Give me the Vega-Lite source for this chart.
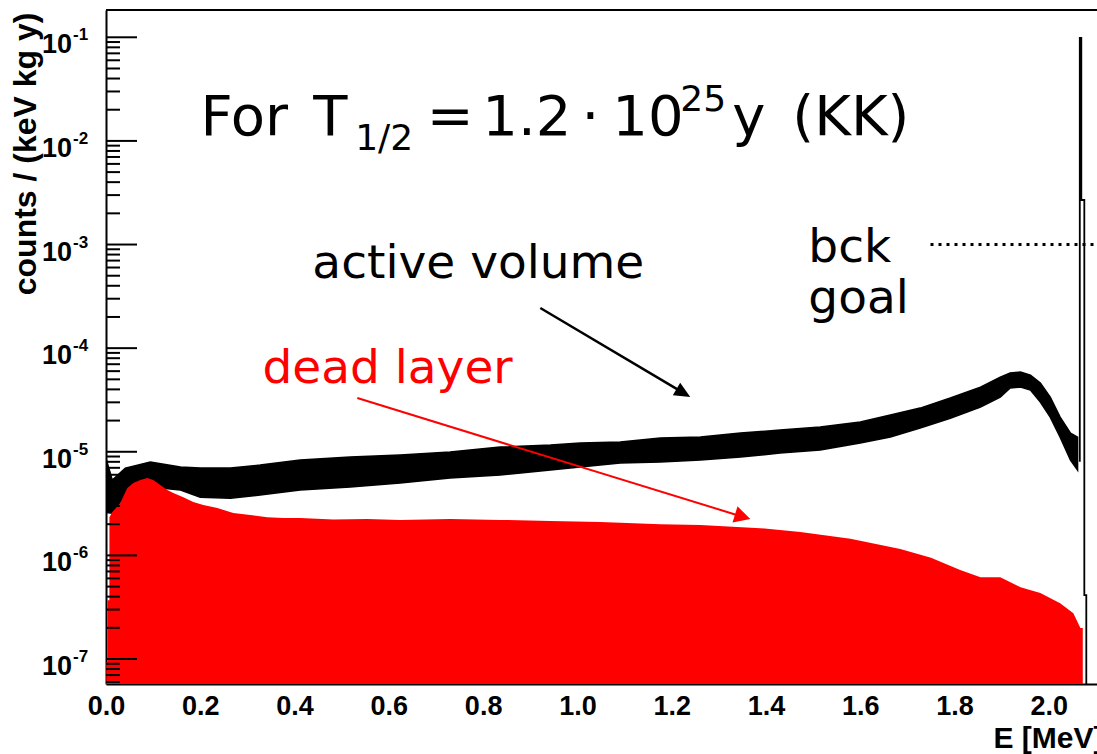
{
  "$schema": "https://vega.github.io/schema/vega-lite/v6.json",
  "width": 991,
  "height": 674,
  "autosize": "none",
  "padding": {"left": 106, "top": 10, "right": 0, "bottom": 70},
  "background": "white",
  "config": {"view": {"stroke": null}},
  "datasets": {
    "one": [{}],
    "black": [
      {"E": 0.0005, "hi": 8.5e-6, "lo": 2.6e-6},
      {"E": 0.0134, "hi": 5.33e-6, "lo": 2.56e-6},
      {"E": 0.041, "hi": 6.96e-6, "lo": 3.82e-6},
      {"E": 0.094, "hi": 7.95e-6, "lo": 4.56e-6},
      {"E": 0.158, "hi": 7.12e-6, "lo": 4.27e-6},
      {"E": 0.2, "hi": 6.96e-6, "lo": 3.65e-6},
      {"E": 0.264, "hi": 6.96e-6, "lo": 3.57e-6},
      {"E": 0.327, "hi": 7.44e-6, "lo": 3.82e-6},
      {"E": 0.412, "hi": 8.31e-6, "lo": 4.27e-6},
      {"E": 0.518, "hi": 8.89e-6, "lo": 4.56e-6},
      {"E": 0.624, "hi": 9.29e-6, "lo": 4.99e-6},
      {"E": 0.73, "hi": 9.93e-6, "lo": 5.57e-6},
      {"E": 0.836, "hi": 1.11e-5, "lo": 5.96e-6},
      {"E": 0.943, "hi": 1.16e-5, "lo": 6.66e-6},
      {"E": 1.006, "hi": 1.213e-5, "lo": 7.12e-6},
      {"E": 1.091, "hi": 1.241e-5, "lo": 7.78e-6},
      {"E": 1.176, "hi": 1.356e-5, "lo": 7.95e-6},
      {"E": 1.261, "hi": 1.386e-5, "lo": 8.31e-6},
      {"E": 1.346, "hi": 1.515e-5, "lo": 8.89e-6},
      {"E": 1.43, "hi": 1.62e-5, "lo": 9.71e-6},
      {"E": 1.515, "hi": 1.731e-5, "lo": 1.038e-5},
      {"E": 1.6, "hi": 1.934e-5, "lo": 1.213e-5},
      {"E": 1.664, "hi": 2.26e-5, "lo": 1.386e-5},
      {"E": 1.727, "hi": 2.64e-5, "lo": 1.693e-5},
      {"E": 1.791, "hi": 3.3e-5, "lo": 2.11e-5},
      {"E": 1.855, "hi": 4.21e-5, "lo": 2.7e-5},
      {"E": 1.897, "hi": 5.26e-5, "lo": 3.37e-5},
      {"E": 1.918, "hi": 5.75e-5, "lo": 4.12e-5},
      {"E": 1.94, "hi": 5.88e-5, "lo": 4.21e-5},
      {"E": 1.961, "hi": 5.5e-5, "lo": 3.94e-5},
      {"E": 1.982, "hi": 4.6e-5, "lo": 3.02e-5},
      {"E": 2.003, "hi": 3.37e-5, "lo": 2.16e-5},
      {"E": 2.024, "hi": 2.16e-5, "lo": 1.386e-5},
      {"E": 2.046, "hi": 1.515e-5, "lo": 8.31e-6},
      {"E": 2.061, "hi": 1.386e-5, "lo": 6.66e-6}
    ],
    "red": [
      {"E": 0.0005, "v": 9.3e-8},
      {"E": 0.003, "v": 9.3e-8},
      {"E": 0.0031, "v": 3.7e-7},
      {"E": 0.0072, "v": 3.7e-7},
      {"E": 0.0073, "v": 2.34e-6},
      {"E": 0.0134, "v": 2.62e-6},
      {"E": 0.0303, "v": 3.2e-6},
      {"E": 0.0452, "v": 4.46e-6},
      {"E": 0.0579, "v": 4.99e-6},
      {"E": 0.0728, "v": 5.33e-6},
      {"E": 0.0876, "v": 5.57e-6},
      {"E": 0.1003, "v": 5.33e-6},
      {"E": 0.1152, "v": 4.77e-6},
      {"E": 0.13, "v": 4.27e-6},
      {"E": 0.1428, "v": 3.99e-6},
      {"E": 0.164, "v": 3.65e-6},
      {"E": 0.1852, "v": 3.27e-6},
      {"E": 0.2064, "v": 3.06e-6},
      {"E": 0.2361, "v": 2.86e-6},
      {"E": 0.27, "v": 2.56e-6},
      {"E": 0.306, "v": 2.45e-6},
      {"E": 0.342, "v": 2.34e-6},
      {"E": 0.376, "v": 2.29e-6},
      {"E": 0.412, "v": 2.29e-6},
      {"E": 0.482, "v": 2.22e-6},
      {"E": 0.554, "v": 2.24e-6},
      {"E": 0.624, "v": 2.2e-6},
      {"E": 0.73, "v": 2.25e-6},
      {"E": 0.836, "v": 2.2e-6},
      {"E": 0.943, "v": 2.15e-6},
      {"E": 1.049, "v": 2.1e-6},
      {"E": 1.176, "v": 2.0e-6},
      {"E": 1.261, "v": 1.96e-6},
      {"E": 1.388, "v": 1.83e-6},
      {"E": 1.473, "v": 1.68e-6},
      {"E": 1.579, "v": 1.45e-6},
      {"E": 1.685, "v": 1.15e-6},
      {"E": 1.75, "v": 9.5e-7},
      {"E": 1.812, "v": 7.21e-7},
      {"E": 1.855, "v": 6.17e-7},
      {"E": 1.897, "v": 6.17e-7},
      {"E": 1.94, "v": 4.94e-7},
      {"E": 1.982, "v": 4.33e-7},
      {"E": 2.024, "v": 3.46e-7},
      {"E": 2.052, "v": 2.77e-7},
      {"E": 2.067, "v": 1.99e-7},
      {"E": 2.072, "v": 1.99e-7}
    ],
    "spike": [
      {"i": 0, "E": 2.0657, "v": 8.0e-6},
      {"i": 1, "E": 2.0657, "v": 0.0985},
      {"i": 2, "E": 2.0689, "v": 0.0985},
      {"i": 3, "E": 2.0689, "v": 0.00269},
      {"i": 4, "E": 2.0753, "v": 0.00269},
      {"i": 5, "E": 2.0753, "v": 4.14e-7},
      {"i": 6, "E": 2.0795, "v": 4.14e-7},
      {"i": 7, "E": 2.0795, "v": 1e-9}
    ],
    "major": [
      {"v": 1e-7, "exp": "-7"},
      {"v": 1e-6, "exp": "-6"},
      {"v": 1e-5, "exp": "-5"},
      {"v": 1e-4, "exp": "-4"},
      {"v": 1e-3, "exp": "-3"},
      {"v": 1e-2, "exp": "-2"},
      {"v": 1e-1, "exp": "-1"}
    ],
    "minor": [
      {"v": 6e-8}, {"v": 7e-8}, {"v": 8e-8}, {"v": 9e-8},
      {"v": 2e-7}, {"v": 3e-7}, {"v": 4e-7}, {"v": 5e-7}, {"v": 6e-7}, {"v": 7e-7}, {"v": 8e-7}, {"v": 9e-7},
      {"v": 2e-6}, {"v": 3e-6}, {"v": 4e-6}, {"v": 5e-6}, {"v": 6e-6}, {"v": 7e-6}, {"v": 8e-6}, {"v": 9e-6},
      {"v": 2e-5}, {"v": 3e-5}, {"v": 4e-5}, {"v": 5e-5}, {"v": 6e-5}, {"v": 7e-5}, {"v": 8e-5}, {"v": 9e-5},
      {"v": 2e-4}, {"v": 3e-4}, {"v": 4e-4}, {"v": 5e-4}, {"v": 6e-4}, {"v": 7e-4}, {"v": 8e-4}, {"v": 9e-4},
      {"v": 2e-3}, {"v": 3e-3}, {"v": 4e-3}, {"v": 5e-3}, {"v": 6e-3}, {"v": 7e-3}, {"v": 8e-3}, {"v": 9e-3},
      {"v": 2e-2}, {"v": 3e-2}, {"v": 4e-2}, {"v": 5e-2}, {"v": 6e-2}, {"v": 7e-2}, {"v": 8e-2}, {"v": 9e-2}
    ]
  },
  "layer": [
    {
      "data": {"name": "black"},
      "mark": {"type": "area", "color": "black", "stroke": "black", "strokeWidth": 1.5, "clip": true},
      "encoding": {
        "x": {
          "field": "E", "type": "quantitative",
          "scale": {"domain": [0, 2.1022], "nice": false, "zero": false},
          "axis": {
            "values": [0, 0.2, 0.4, 0.6, 0.8, 1.0, 1.2, 1.4, 1.6, 1.8, 2.0],
            "format": ".1f", "grid": false, "ticks": false,
            "labelFont": "Liberation Sans", "labelFontWeight": "bold", "labelFontSize": 27,
            "labelColor": "black", "labelPadding": 9, "labelFlush": false, "labelOverlap": false,
            "domainColor": "black", "domainWidth": 2,
            "title": "E [MeV]", "titleFont": "Liberation Sans", "titleFontWeight": "bold",
            "titleFontSize": 30, "titleColor": "black", "titleX": 997, "titleY": 63,
            "titleAlign": "right", "titleBaseline": "alphabetic"
          }
        },
        "y": {
          "field": "hi", "type": "quantitative",
          "scale": {"type": "log", "domain": [5.74e-8, 0.1834], "nice": false},
          "axis": {
            "grid": false, "ticks": false, "labels": false,
            "domainColor": "black", "domainWidth": 2,
            "title": "counts / (keV kg y)", "titleFont": "Liberation Sans", "titleFontWeight": "bold",
            "titleFontSize": 32, "titleColor": "black", "titleX": -71, "titleY": 2,
            "titleAlign": "right", "titleBaseline": "alphabetic", "titleAngle": -90
          }
        },
        "y2": {"field": "lo"}
      }
    },
    {
      "data": {"name": "red"},
      "mark": {"type": "area", "color": "#ff0000", "clip": true},
      "encoding": {
        "x": {"field": "E", "type": "quantitative"},
        "y": {"field": "v", "type": "quantitative"},
        "y2": {"datum": 1e-9}
      }
    },
    {
      "data": {"name": "spike"},
      "mark": {"type": "line", "color": "black", "strokeWidth": 1.8, "clip": true},
      "encoding": {
        "x": {"field": "E", "type": "quantitative"},
        "y": {"field": "v", "type": "quantitative"},
        "order": {"field": "i", "type": "quantitative"}
      }
    },
    {
      "data": {"name": "one"},
      "mark": {"type": "rule", "color": "black", "strokeWidth": 3, "strokeDash": [3, 5], "clip": true},
      "encoding": {
        "x": {"datum": 1.749},
        "x2": {"datum": 2.1022},
        "y": {"datum": 0.001}
      }
    },
    {
      "data": {"name": "one"},
      "mark": {"type": "rule", "color": "black", "strokeWidth": 2},
      "encoding": {
        "x": {"datum": 0},
        "x2": {"datum": 2.1022},
        "y": {"datum": 0.1834}
      }
    },
    {
      "data": {"name": "major"},
      "mark": {"type": "rule", "color": "black", "strokeWidth": 2},
      "encoding": {
        "x": {"datum": 0},
        "x2": {"datum": 0.0658},
        "y": {"field": "v", "type": "quantitative"}
      }
    },
    {
      "data": {"name": "minor"},
      "mark": {"type": "rule", "color": "black", "strokeWidth": 2},
      "encoding": {
        "x": {"datum": 0},
        "x2": {"datum": 0.0297},
        "y": {"field": "v", "type": "quantitative"}
      }
    },
    {
      "data": {"name": "major"},
      "mark": {"type": "text", "text": "10", "font": "Liberation Sans", "fontWeight": "bold", "fontSize": 27, "color": "black", "align": "right", "baseline": "alphabetic", "dx": -34, "dy": 16},
      "encoding": {
        "x": {"datum": 0},
        "y": {"field": "v", "type": "quantitative"}
      }
    },
    {
      "data": {"name": "major"},
      "mark": {"type": "text", "font": "Liberation Sans", "fontWeight": "bold", "fontSize": 17, "color": "black", "align": "left", "baseline": "alphabetic", "dx": -33, "dy": 3},
      "encoding": {
        "x": {"datum": 0},
        "y": {"field": "v", "type": "quantitative"},
        "text": {"field": "exp"}
      }
    },
    {
      "data": {"name": "one"},
      "mark": {"type": "text", "text": "For", "font": "DejaVu Sans", "fontSize": 56, "color": "black", "align": "left", "baseline": "alphabetic"},
      "encoding": {"x": {"datum": 0.2003}, "y": {"datum": 0.0115}}
    },
    {
      "data": {"name": "one"},
      "mark": {"type": "text", "text": "T", "font": "DejaVu Sans", "fontSize": 56, "color": "black", "align": "left", "baseline": "alphabetic"},
      "encoding": {"x": {"datum": 0.4398}, "y": {"datum": 0.0115}}
    },
    {
      "data": {"name": "one"},
      "mark": {"type": "text", "text": "1/2", "font": "DejaVu Sans", "fontSize": 36, "color": "black", "align": "left", "baseline": "alphabetic"},
      "encoding": {"x": {"datum": 0.5286}, "y": {"datum": 0.00825}}
    },
    {
      "data": {"name": "one"},
      "mark": {"type": "text", "text": "=", "font": "DejaVu Sans", "fontSize": 56, "color": "black", "align": "center", "baseline": "alphabetic"},
      "encoding": {"x": {"datum": 0.7304}, "y": {"datum": 0.0115}}
    },
    {
      "data": {"name": "one"},
      "mark": {"type": "text", "text": "1.2", "font": "DejaVu Sans", "fontSize": 56, "color": "black", "align": "left", "baseline": "alphabetic"},
      "encoding": {"x": {"datum": 0.7983}, "y": {"datum": 0.0115}}
    },
    {
      "data": {"name": "one"},
      "mark": {"type": "text", "text": "·", "font": "DejaVu Sans", "fontSize": 56, "color": "black", "align": "center", "baseline": "alphabetic"},
      "encoding": {"x": {"datum": 1.0274}, "y": {"datum": 0.0115}}
    },
    {
      "data": {"name": "one"},
      "mark": {"type": "text", "text": "10", "font": "DejaVu Sans", "fontSize": 56, "color": "black", "align": "left", "baseline": "alphabetic"},
      "encoding": {"x": {"datum": 1.074}, "y": {"datum": 0.0115}}
    },
    {
      "data": {"name": "one"},
      "mark": {"type": "text", "text": "25", "font": "DejaVu Sans", "fontSize": 36, "color": "black", "align": "left", "baseline": "alphabetic"},
      "encoding": {"x": {"datum": 1.2182}, "y": {"datum": 0.0195}}
    },
    {
      "data": {"name": "one"},
      "mark": {"type": "text", "text": "y", "font": "DejaVu Sans", "fontSize": 56, "color": "black", "align": "left", "baseline": "alphabetic"},
      "encoding": {"x": {"datum": 1.3286}, "y": {"datum": 0.0115}}
    },
    {
      "data": {"name": "one"},
      "mark": {"type": "text", "text": "(KK)", "font": "DejaVu Sans", "fontSize": 56, "color": "black", "align": "left", "baseline": "alphabetic"},
      "encoding": {"x": {"datum": 1.4559}, "y": {"datum": 0.0115}}
    },
    {
      "data": {"name": "one"},
      "mark": {"type": "text", "text": "active volume", "font": "DejaVu Sans", "fontSize": 47, "color": "black", "align": "center", "baseline": "alphabetic"},
      "encoding": {"x": {"datum": 0.7898}, "y": {"datum": 0.000475}}
    },
    {
      "data": {"name": "one"},
      "mark": {"type": "text", "text": "bck", "font": "DejaVu Sans", "fontSize": 47, "color": "black", "align": "left", "baseline": "alphabetic"},
      "encoding": {"x": {"datum": 1.4898}, "y": {"datum": 0.000678}}
    },
    {
      "data": {"name": "one"},
      "mark": {"type": "text", "text": "goal", "font": "DejaVu Sans", "fontSize": 47, "color": "black", "align": "left", "baseline": "alphabetic"},
      "encoding": {"x": {"datum": 1.4898}, "y": {"datum": 0.000218}}
    },
    {
      "data": {"name": "one"},
      "mark": {"type": "text", "text": "dead layer", "font": "DejaVu Sans", "fontSize": 47, "color": "#ff0000", "align": "left", "baseline": "alphabetic"},
      "encoding": {"x": {"datum": 0.3318}, "y": {"datum": 4.6e-5}}
    },
    {
      "data": {"name": "one"},
      "mark": {"type": "rule", "color": "black", "strokeWidth": 2.5},
      "encoding": {
        "x": {"datum": 0.9213}, "y": {"datum": 0.000244},
        "x2": {"datum": 1.2212}, "y2": {"datum": 3.78e-5}
      }
    },
    {
      "data": {"name": "one"},
      "mark": {"type": "point", "shape": "M0,0L-2,-0.9L-2,0.9Z", "filled": true, "color": "black", "opacity": 1, "size": 256, "angle": 30.7},
      "encoding": {"x": {"datum": 1.2394}, "y": {"datum": 3.37e-5}}
    },
    {
      "data": {"name": "one"},
      "mark": {"type": "rule", "color": "#ff0000", "strokeWidth": 2},
      "encoding": {
        "x": {"datum": 0.5331}, "y": {"datum": 3.3e-5},
        "x2": {"datum": 1.3466}, "y2": {"datum": 2.39e-6}
      }
    },
    {
      "data": {"name": "one"},
      "mark": {"type": "point", "shape": "M0,0L-2,-1.05L-2,1.05Z", "filled": true, "color": "#ff0000", "opacity": 1, "size": 256, "angle": 17.2},
      "encoding": {"x": {"datum": 1.3668}, "y": {"datum": 2.24e-6}}
    }
  ]
}
